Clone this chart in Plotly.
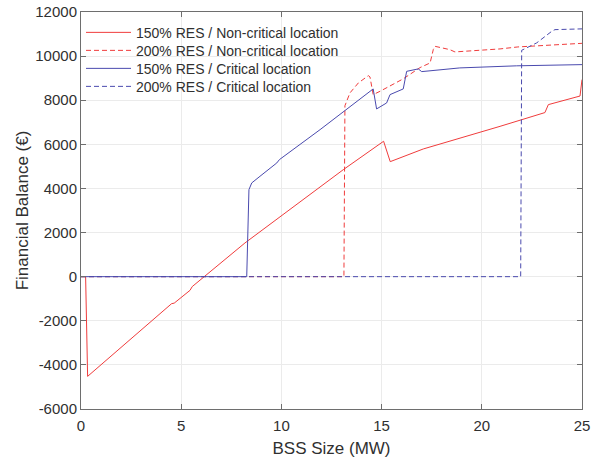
import plotly.graph_objects as go

# BSS size (MW) and financial balance (EUR) for each scenario
x_150_noncrit = [0, 0.23, 0.33, 1.86, 4.52, 4.65, 5.44, 5.55, 6.15, 8.18, 13.09, 15.10,
                 15.43, 17.08, 20.91, 23.15, 23.32, 24.90, 25.0]
y_150_noncrit = [0, 0, -4520, -3310, -1225, -1200, -620, -450, 0, 1528, 4852, 6140,
                 5215, 5790, 6816, 7440, 7800, 8190, 8934]

x_200_noncrit = [0, 13.12, 13.17, 13.42, 13.84, 14.34, 14.42, 14.58, 14.92, 15.25, 16.08,
                 16.92, 17.42, 17.58, 17.66, 18.4, 18.66, 20.91, 21.8, 25.0]
y_200_noncrit = [0, 0, 7750, 8330, 8784, 9115, 9056, 8254, 8404, 8557, 8970,
                 9480, 9690, 10300, 10445, 10295, 10190, 10326, 10416, 10580]

x_150_crit = [0, 8.27, 8.38, 8.52, 8.93, 9.77, 9.90, 11.93, 14.58, 14.75, 15.25, 15.42,
              16.08, 16.25, 16.83, 17.0, 18.9, 21.74, 25.0]
y_150_crit = [0, 0, 3945, 4250, 4550, 5156, 5306, 6666, 8512, 7605, 7877, 8254,
              8512, 9310, 9420, 9297, 9465, 9560, 9614]

x_200_crit = [0, 21.94, 21.99, 22.74, 23.49, 23.65, 25.0]
y_200_crit = [0, 0, 10264, 10600, 11125, 11200, 11235]

series_names = [
    "150% RES / Non-critical location",
    "200% RES / Non-critical location",
    "150% RES / Critical location",
    "200% RES / Critical location",
]

y_tick_values = [-6000, -4000, -2000, 0, 2000, 4000, 6000, 8000, 10000, 12000]
y_tick_labels = ["-6000", "-4000", "-2000", "0", "2000", "4000", "6000", "8000", "10000", "12000"]
x_tick_values = [0, 5, 10, 15, 20, 25]
x_tick_labels = ["0", "5", "10", "15", "20", "25"]

RED = "#f03c3c"
BLUE = "#4a4aae"
DASH = "5px,3px"
FONT = "Liberation Sans, Arial, sans-serif"
TEXT = "#303030"

# one legend per entry so the rows sit close together
legend_ids = ["legend", "legend2", "legend3", "legend4"]
styles = [
    dict(color=RED, width=1),
    dict(color=RED, width=1, dash=DASH),
    dict(color=BLUE, width=1),
    dict(color=BLUE, width=1, dash=DASH),
]
xs = [x_150_noncrit, x_200_noncrit, x_150_crit, x_200_crit]
ys = [y_150_noncrit, y_200_noncrit, y_150_crit, y_200_crit]

fig = go.Figure()
for xv, yv, name, st, lg in zip(xs, ys, series_names, styles, legend_ids):
    fig.add_trace(go.Scatter(x=xv, y=yv, mode="lines", name=name, line=st, legend=lg))

axis_common = dict(
    showline=True, linecolor="#6e6e6e", linewidth=1, mirror="ticks",
    ticks="inside", ticklen=5, tickwidth=1, tickcolor="#6e6e6e",
    showgrid=True, gridcolor="#ebebeb", gridwidth=1,
    zeroline=False, automargin=False,
    tickfont=dict(family=FONT, size=15, color=TEXT),
)

fig.update_xaxes(
    range=[0, 25], tickvals=x_tick_values, ticktext=x_tick_labels,
    ticklabelstandoff=3,
    title=dict(text="BSS Size (MW)", font=dict(family=FONT, size=17, color=TEXT), standoff=12),
    **axis_common,
)
fig.update_yaxes(
    range=[-6000, 12000], tickvals=y_tick_values, ticktext=y_tick_labels,
    title=dict(text="Financial Balance (€)", font=dict(family=FONT, size=17, color=TEXT), standoff=2),
    **axis_common,
)

plot_h = 458 - 12 - 49
row = 18.0 / plot_h
legend_style = dict(
    x=0.0, xanchor="left", yanchor="top",
    bgcolor="rgba(0,0,0,0)", borderwidth=0,
    font=dict(family=FONT, size=14, color=TEXT),
    itemwidth=45,
)
layout_legends = {lg: dict(y=1.0 - 0.012 - i * row, **legend_style) for i, lg in enumerate(legend_ids)}

fig.update_layout(
    width=592, height=458,
    margin=dict(l=81, r=10, t=12, b=49),
    paper_bgcolor="white", plot_bgcolor="white",
    font=dict(family=FONT, color=TEXT),
    showlegend=True,
    **layout_legends,
)

fig.write_html("out.html")
